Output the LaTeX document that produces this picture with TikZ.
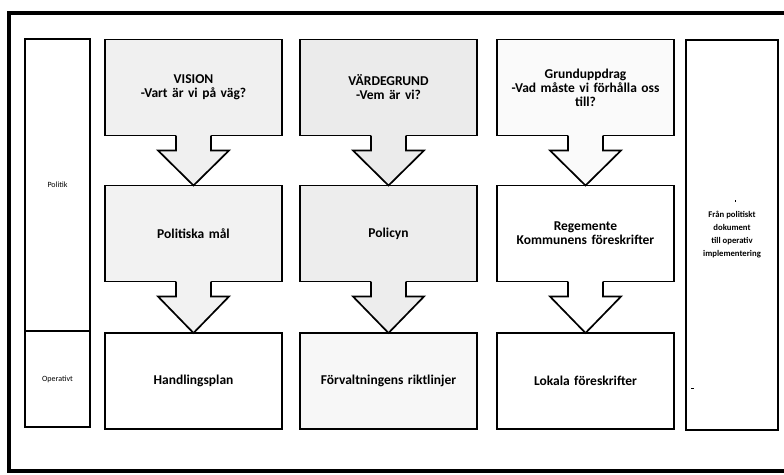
\documentclass[tikz,border=0pt]{standalone}
\usepackage{fontspec}
\setmainfont{Carlito}
\usetikzlibrary{calc}
\newcommand\blkarrow[3]{%
  \fill[#3] ($(#1.south)+(-17.5,-1.2)$) -- ($(#1.south)+(-17.5,15)$) -- ($(#1.south)+(-35.5,15)$) -- (#2.north) -- ($(#1.south)+(35.5,15)$) -- ($(#1.south)+(17.5,15)$) -- ($(#1.south)+(17.5,-1.2)$) -- cycle;
  \draw[arrline] ($(#1.south)+(-17.5,0)$) -- ($(#1.south)+(-17.5,15)$) -- ($(#1.south)+(-35.5,15)$) -- (#2.north) -- ($(#1.south)+(35.5,15)$) -- ($(#1.south)+(17.5,15)$) -- ($(#1.south)+(17.5,0)$);
}
\begin{document}
\begin{tikzpicture}[x=1pt,y=-1pt,
  box/.style={draw, line width=1.7pt, outer sep=0pt, inner sep=2pt, align=center,
    minimum width=177pt, minimum height=96pt, text width=168pt,
    font=\fontsize{13.5}{14}\selectfont\bfseries},
  sidebox/.style={draw, line width=1.7pt, outer sep=0pt, inner sep=1pt, align=center,
    minimum width=65pt, font=\fontsize{8}{9}\selectfont},
  arrline/.style={line width=1.7pt, line join=miter},
  frame/.style={line width=4pt}]
\useasboundingbox (0,0) rectangle (784,474);
\fill[white] (0,0) rectangle (784,474);
% outer frame (right side runs off the picture)
\draw[frame] (790,13) -- (9,13) -- (9,471) -- (790,471);
% left column
\node[sidebox, minimum height=292pt] (pol) at (57.5,185) {Politik};
\node[sidebox, minimum height=96pt] (op) at (57.5,379) {Operativt};
% right column
\node[draw, line width=1.7pt, outer sep=0pt, minimum width=92pt, minimum height=390pt,
  align=center, font=\fontsize{8.7}{13}\selectfont\bfseries] (fr) at (732,235)
  {Från politiskt\\dokument\\till operativ\\implementering};
\fill (734.5,200) rectangle (736.3,201.8);
\fill (690.5,387.5) rectangle (693.5,389.3);
% column 1
\node[box, fill=black!6] (vis) at (193.5,87.5) {VISION\\-Vart är vi på väg?};
\node[box, fill=black!5] (pm) at (193.5,233.5) {Politiska mål};
\node[box, fill=white] (hp) at (193.5,381) {Handlingsplan};
% column 2
\node[box, fill=black!8] (vg) at (388.5,87.5) {VÄRDEGRUND\\-Vem är vi?};
\node[box, fill=black!7] (pc) at (388.5,233.5) {Policyn};
\node[box, fill=black!3] (fr2) at (388.5,381) {Förvaltningens riktlinjer};
% column 3
\node[box, fill=black!2] (gu) at (585.5,87.5) {Grunduppdrag\\-Vad måste vi förhålla oss\\till?};
\node[box, fill=white] (rg) at (585.5,233.5) {Regemente\\Kommunens föreskrifter};
\node[box, fill=white] (lf) at (585.5,381) {Lokala föreskrifter};
% block arrows
\blkarrow{vis}{pm}{black!6}
\blkarrow{pm}{hp}{black!5}
\blkarrow{vg}{pc}{black!8}
\blkarrow{pc}{fr2}{black!7}
\blkarrow{gu}{rg}{black!2}
\blkarrow{rg}{lf}{white}
\end{tikzpicture}
\end{document}
